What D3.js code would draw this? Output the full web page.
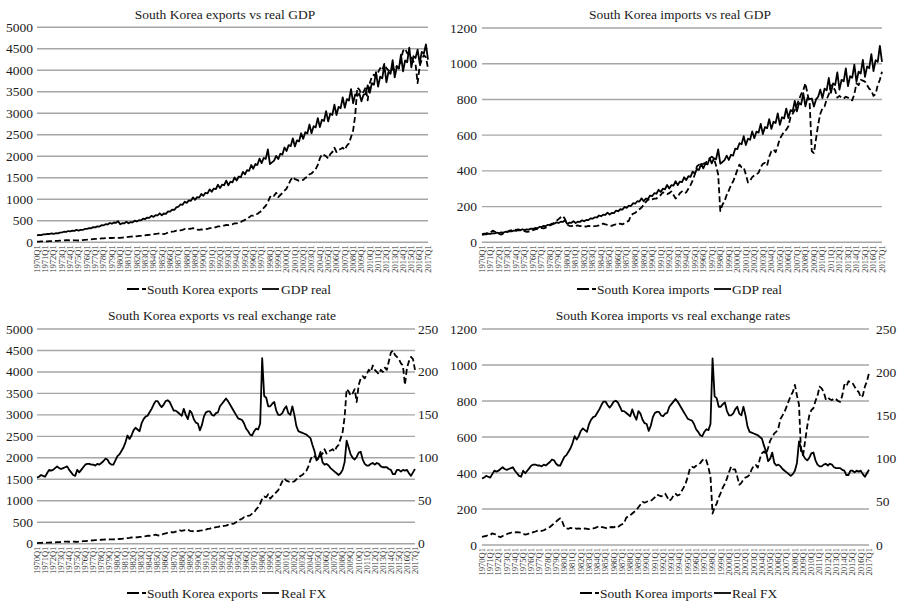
<!DOCTYPE html>
<html>
<head>
<meta charset="utf-8">
<script src="https://cdn.jsdelivr.net/npm/d3@7"></script>
<style>
body { margin: 0; background: #fff; }
svg { font-family: "Liberation Serif", "Times New Roman", serif; }
</style>
</head>
<body>
<svg id="chart" width="901" height="601"></svg>
<script>
// Categories -----------------------------------
var quarters = [];
d3.range(1970, 2018).forEach(function(yr) {
  [1, 2, 3, 4].forEach(function(q) { quarters.push(yr + "Q" + q); });
});
quarters = quarters.slice(0, 189);               // 1970Q1 .. 2017Q1
var tickLabels = quarters.filter(function(d) { return /Q1$/.test(d); });

// Series ---------------------------------------
var exportsKR = [
  15,18,20,22, 20,23,25,28, 28,32,35,38, 40,45,48,50, 45,48,46,45,
  42,48,52,58, 60,65,70,75, 78,82,85,90, 92,95,98,100, 100,102,100,105,
  105,110,112,120, 125,130,135,145, 140,148,150,160, 160,170,175,185, 185,195,200,210,
  195,190,205,230, 240,250,255,270, 265,280,290,310, 300,310,315,330, 300,295,290,300,
  295,305,310,330, 330,345,350,370, 370,385,390,405, 400,415,420,440, 440,460,470,500,
  520,560,580,620, 620,650,660,700, 730,800,850,930, 1050,1100,1080,1150, 1050,1100,1150,1200,
  1250,1350,1450,1520, 1470,1450,1430,1440, 1450,1500,1520,1580, 1600,1650,1700,1800, 1950,2050,2030,2000,
  1950,2050,2100,2200, 2100,2150,2170,2200, 2150,2250,2300,2450, 2600,2950,3600,3550, 3450,3500,3600,3300,
  3700,3850,3900,3850, 3950,4050,4000,4150, 4050,4000,3950,4050, 4000,4100,4050,4250, 4450,4500,4400,4350,
  4300,4200,4150,3700, 4100,4250,4350,4300, 4050
];

var gdpExp = [
  160,170,168,182, 183,195,193,209, 197,210,208,225, 230,245,243,262, 254,270,267,289,
  273,290,287,310, 310,330,327,353, 348,370,366,396, 395,420,416,449, 432,460,455,492,
  418,445,441,476, 442,470,465,503, 484,515,510,551, 541,575,569,615, 592,630,624,674,
  630,670,663,717, 714,760,752,813, 827,880,871,942, 917,975,965,1043, 987,1050,1040,1124,
  1081,1150,1139,1231, 1175,1250,1238,1338, 1260,1340,1327,1434, 1325,1410,1396,1509, 1438,1530,1515,1637,
  1579,1680,1663,1798, 1711,1820,1802,1947, 1842,1960,1940,2160, 1820,1860,1900,2010, 1936,2060,2040,2204,
  2124,2260,2237,2418, 2228,2370,2346,2536, 2406,2560,2534,2739, 2538,2700,2673,2889, 2679,2850,2822,3050,
  2811,2990,2960,3199, 2961,3150,3119,3371, 3130,3330,3297,3563, 3234,3440,3406,3460, 3280,3430,3450,3650,
  3478,3700,3663,3959, 3619,3850,3812,4120, 3722,3960,3920,4237, 3835,4080,4039,4366, 3976,4230,4188,4526,
  4070,4330,4287,4480, 4164,4430,4386,4600, 4250
];

var importsKR = [
  45,48,50,55, 55,65,60,58, 48,43,50,55, 60,65,68,72, 70,72,70,68,
  62,58,60,65, 68,72,75,80, 80,78,82,88, 95,100,110,120, 130,140,148,130,
  100,92,90,95, 92,95,90,92, 90,88,92,90, 88,90,92,95, 100,105,100,98,
  95,92,98,100, 98,105,100,108, 115,120,150,160, 165,175,185,195, 210,225,240,235,
  240,245,245,255, 265,280,275,270, 275,285,265,245, 255,275,285,275, 280,300,320,345,
  380,425,435,430, 440,445,455,470, 480,470,430,380, 175,210,230,265, 290,320,340,370,
  405,435,420,420, 380,335,345,365, 375,380,390,420, 440,445,430,480, 510,520,505,540,
  580,600,620,630, 650,700,720,740, 770,800,830,850, 890,830,780,510, 500,580,660,720,
  750,760,800,830, 880,870,850,810, 820,810,805,815, 810,800,795,830, 890,880,910,905,
  900,880,860,850, 820,830,880,910, 955
];

var gdpImp = [
  42,45,45,48, 47,50,50,54, 52,55,54,59, 58,62,61,66, 64,68,67,73,
  68,72,71,77, 75,80,79,86, 86,92,91,98, 99,105,104,112, 108,115,114,123,
  103,110,109,118, 108,115,114,123, 118,125,124,134, 132,140,139,150, 146,155,153,166,
  155,165,163,177, 174,185,183,198, 193,205,203,219, 216,230,228,246, 230,245,243,262,
  259,275,272,294, 282,300,297,321, 301,320,317,342, 320,340,337,364, 348,370,366,396,
  385,410,406,439, 414,440,436,471, 442,470,465,520, 440,450,460,485, 461,490,485,524,
  522,555,549,594, 545,580,574,621, 583,620,614,663, 606,645,639,690, 635,675,668,722,
  658,700,693,749, 696,740,733,792, 733,780,772,835, 761,810,802,805, 760,800,815,855,
  808,860,851,920, 837,890,881,952, 855,910,901,974, 874,930,921,995, 898,955,945,1022,
  926,985,975,1054, 959,1020,1010,1100, 1010
];

var realFX = [
  77,78,80,79,78,82,86,85,86,88,
  90,88,87,88,89,90,86,83,80,79,
  86,83,86,89,92,93,93,92,92,91,
  93,92,94,96,99,98,94,92,92,97,
  102,104,108,112,118,126,122,126,132,135,
  133,131,140,145,148,149,153,157,162,166,
  166,162,159,162,166,167,165,160,155,155,
  153,151,149,157,150,145,155,152,145,141,
  140,132,138,148,153,154,154,150,149,152,
  153,160,163,166,169,166,162,158,154,150,
  146,145,144,140,134,131,127,126,131,134,
  133,140,216,172,170,160,160,163,165,155,
  150,150,152,157,160,152,150,160,150,137,
  131,130,129,128,127,125,123,115,108,97,
  100,107,95,92,93,91,88,86,84,82,
  80,82,86,95,120,112,104,100,98,101,
  106,107,98,93,91,91,93,94,92,94,
  93,90,89,89,89,87,86,81,81,86,
  86,84,86,85,86,82,79,83,87
];

var leftTicks5000 = d3.range(0, 5001, 500);
var leftTicks1200 = d3.range(0, 1201, 200);
var rightTicks = d3.range(0, 251, 50);

// Panels ---------------------------------------
var panels = [
  { title: "South Korea exports vs real GDP", tx: 225, ty: 18.5,
    x0: 37, x1: 428, yb: 242.3, yt: 27.3, left: leftTicks5000, lx: 33,
    lines: [ { data: exportsKR, dash: true, axis: "L", name: "South Korea exports", sx: 127, txt: 147 },
             { data: gdpExp, dash: false, axis: "L", name: "GDP real", sx: 262, txt: 281 } ],
    ly: 289 },
  { title: "South Korea imports vs real GDP", tx: 680, ty: 18.5,
    x0: 482, x1: 882, yb: 242.3, yt: 28, left: leftTicks1200, lx: 477,
    lines: [ { data: importsKR, dash: true, axis: "L", name: "South Korea imports", sx: 577, txt: 597 },
             { data: gdpImp, dash: false, axis: "L", name: "GDP real", sx: 714, txt: 732 } ],
    ly: 289 },
  { title: "South Korea exports vs real exchange rate", tx: 222, ty: 320,
    x0: 37, x1: 415, yb: 543.7, yt: 329, left: leftTicks5000, lx: 33, right: rightTicks, rx: 418,
    lines: [ { data: exportsKR, dash: true, axis: "L", name: "South Korea exports", sx: 127, txt: 147 },
             { data: realFX, dash: false, axis: "R", name: "Real FX", sx: 262, txt: 281 } ],
    ly: 593 },
  { title: "South Korea imports vs real exchange rates", tx: 673, ty: 320,
    x0: 482, x1: 869, yb: 545, yt: 329, left: leftTicks1200, lx: 477, right: rightTicks, rx: 876,
    lines: [ { data: importsKR, dash: true, axis: "L", name: "South Korea imports", sx: 580, txt: 600 },
             { data: realFX, dash: false, axis: "R", name: "Real FX", sx: 714, txt: 732 } ],
    ly: 593 }
];

var svg = d3.select("#chart");

panels.forEach(function(p) {
  var g = svg.append("g");

  var x = d3.scalePoint().domain(quarters).range([p.x0, p.x1]);
  var yL = d3.scaleLinear().domain([0, d3.max(p.left)]).range([p.yb, p.yt]);
  var yR = d3.scaleLinear().domain([0, 250]).range([p.yb, p.yt]);

  // gridlines
  g.selectAll(".grid")
    .data(p.left)
    .enter()
    .append("line")
    .attr("x1", p.x0).attr("x2", p.x1)
    .attr("y1", function(d) { return yL(d) }).attr("y2", function(d) { return yL(d) })
    .attr("stroke", "#a6a6a6").attr("stroke-width", 1.4);

  // left labels
  g.selectAll(".ly")
    .data(p.left)
    .enter()
    .append("text")
    .attr("x", p.lx).attr("y", function(d) { return yL(d) + 4.5 })
    .attr("text-anchor", "end")
    .attr("font-size", 13.5).attr("fill", "#1a1a1a")
    .text(function(d) { return d });

  // right labels
  if (p.right) {
    g.selectAll(".ry")
      .data(p.right)
      .enter()
      .append("text")
      .attr("x", p.rx).attr("y", function(d) { return yR(d) + 4.5 })
      .attr("font-size", 13.5).attr("fill", "#1a1a1a")
      .text(function(d) { return d });
  }

  // category labels
  g.selectAll(".xl")
    .data(tickLabels)
    .enter()
    .append("text")
    .attr("transform", function(d) { return "translate(" + x(d) + "," + (p.yb + 3) + ") rotate(-90)" })
    .attr("text-anchor", "end")
    .attr("dy", "0.33em")
    .attr("font-size", 8.5).attr("fill", "#333")
    .text(function(d) { return d });

  // series
  p.lines.forEach(function(s) {
    var yy = s.axis == "R" ? yR : yL;
    var line = d3.line()
      .x(function(d, i) { return x(quarters[i]) })
      .y(function(d) { return yy(d) });
    g.append("path")
      .datum(s.data)
      .attr("d", line)
      .attr("fill", "none")
      .attr("stroke", "#000")
      .attr("stroke-width", 1.8)
      .attr("stroke-linejoin", "round")
      .attr("stroke-dasharray", s.dash ? "6,3" : null);

    // legend
    g.append("line")
      .attr("x1", s.sx).attr("x2", s.sx + (s.dash ? 19 : 17))
      .attr("y1", p.ly).attr("y2", p.ly)
      .attr("stroke", "#000").attr("stroke-width", 1.8)
      .attr("stroke-dasharray", s.dash ? "12,3,4" : null);
    g.append("text")
      .attr("x", s.txt).attr("y", p.ly + 4.5)
      .attr("font-size", 13.5).attr("fill", "#1a1a1a")
      .text(s.name);
  });

  // title
  g.append("text")
    .attr("x", p.tx).attr("y", p.ty)
    .attr("text-anchor", "middle")
    .attr("font-size", 13.5).attr("fill", "#1a1a1a")
    .text(p.title);
});
</script>
</body>
</html>
